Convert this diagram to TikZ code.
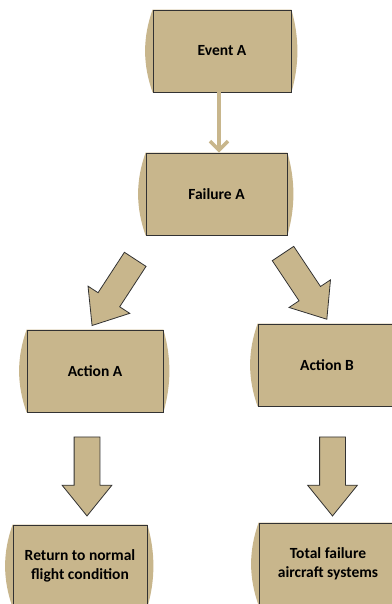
\documentclass[tikz,border=0pt]{standalone}
\usepackage{fontspec}
\setmainfont{Carlito}
\usetikzlibrary{shapes.arrows,arrows.meta,backgrounds}

% Colours of the sketch
\definecolor{sandfill}{RGB}{200,182,140}
\definecolor{inkline}{RGB}{50,50,50}

\tikzset{
  stepbox/.style={draw=inkline, line width=0.8pt, fill=sandfill,
    minimum width=138pt, minimum height=82pt, inner sep=2pt, align=center,
    font=\fontsize{15.5}{18.5}\selectfont\bfseries},
  blockarrow/.style={single arrow, draw=inkline, line width=0.8pt, fill=sandfill,
    minimum height=79pt, inner xsep=0pt, inner ysep=12.5pt,
    single arrow head extend=12pt, single arrow tip angle=78},
  thinarrow/.style={draw=sandfill, line width=3.5pt, line cap=round,
    -{Straight Barb[length=9pt,width=18pt]}}
}

% soft hand-drawn patch behind a box
\newcommand\sandblob[1]{%
  \fill[sandfill] (#1.north west) .. controls +(-10,28) and +(-10,-28) .. (#1.south west)
    -- (#1.south east) .. controls +(8,-28) and +(8,28) .. (#1.north east) -- cycle;}

\begin{document}
\begin{tikzpicture}[x=1pt,y=-1pt]
	\useasboundingbox (0,0) rectangle (391,604);
	
	% Boxes
	\node[stepbox] (evA) at (222,51) {Event A};
	\node[stepbox, minimum width=141pt] (failA) at (216.5,194) {Failure A};
	\node[stepbox, minimum width=136pt] (actA) at (95,371) {Action A};
	\node[stepbox] (actB) at (327,365) {Action B};
	\node[stepbox, minimum width=134pt] (retA) at (80,566) {Return to normal\\flight condition};
	\node[stepbox] (totB) at (328,564) {Total failure\\aircraft systems};
	
	% Patches behind the boxes
	\begin{scope}[on background layer]
		\sandblob{evA}
		\sandblob{failA}
		\sandblob{actA}
		\sandblob{actB}
		\sandblob{retA}
		\sandblob{totB}
	\end{scope}
	
	% Event to failure
	\draw[thinarrow] ([xshift=-3pt]evA.south) -- ([xshift=-3pt]evA.south |- failA.north);
	
	% Block arrows
	\node[blockarrow, rotate=236.9] (toActA) at (118,285.75) {};
	\node[blockarrow, rotate=-56.3] (toActB) at (300.5,279.75) {};
	\node[blockarrow, rotate=-90] (toRetA) at (87,468.5) {};
	\node[blockarrow, rotate=-90] (toTotB) at (332.5,468.5) {};
\end{tikzpicture}
\end{document}
